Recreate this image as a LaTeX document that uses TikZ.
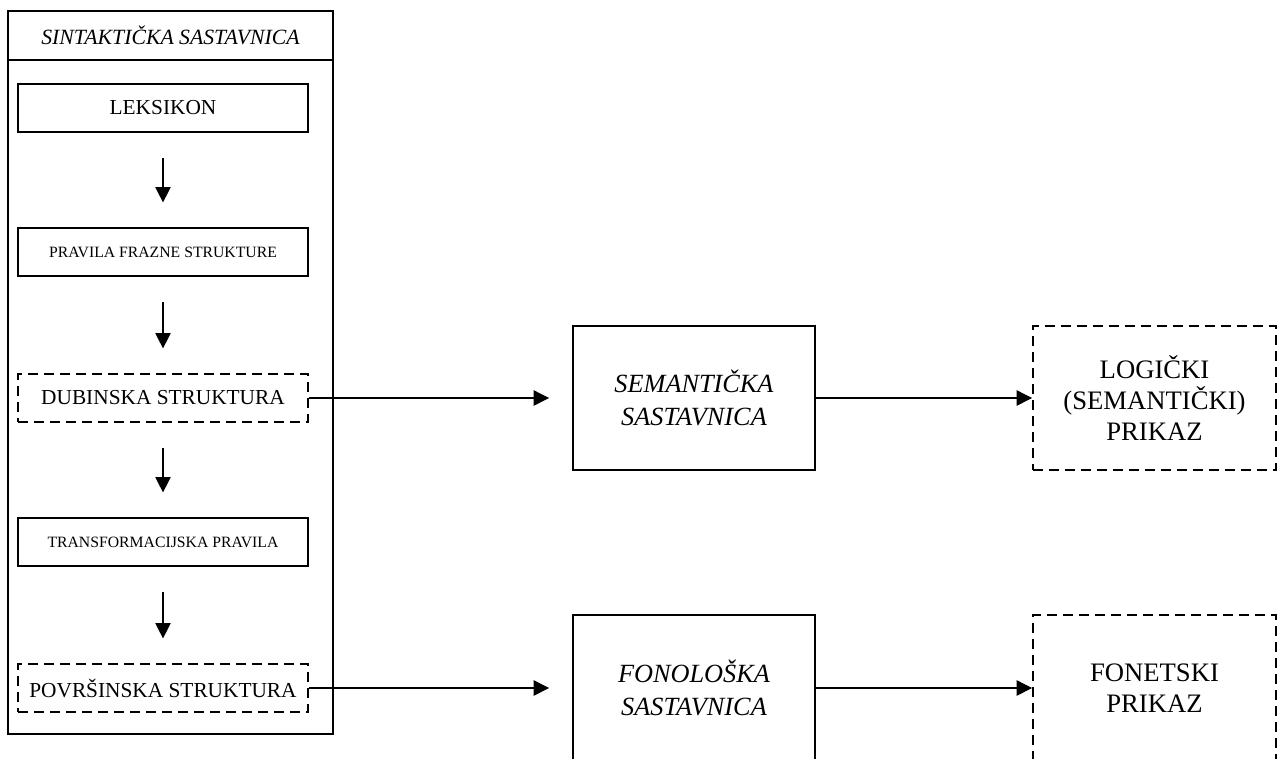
\documentclass[tikz,border=0pt]{standalone}
\usepackage{fontspec}
\setmainfont{Liberation Serif}
\usetikzlibrary{arrows.meta}
\begin{document}
\begin{tikzpicture}[x=0.75pt,y=-0.75pt,
  frame/.style={draw, line width=1.5pt, inner sep=0pt},
  smallbox/.style={draw, line width=1.4pt, inner sep=0pt, minimum width=217.5pt, minimum height=36pt, align=center},
  dashbox/.style={smallbox, dash pattern=on 7.5pt off 4.5pt},
  bigbox/.style={draw, line width=1.4pt, inner sep=0pt, minimum width=181.5pt, minimum height=108pt, align=center},
  bigdash/.style={bigbox, minimum width=182.25pt, dash pattern=on 7.5pt off 4.5pt},
  arr/.style={line width=0.8pt, -{Triangle[length=11.5pt,width=11.5pt]}},
  lab/.style={font=\fontsize{16}{19}\selectfont},
  smalllab/.style={font=\fontsize{11.8}{14}\selectfont},
  itlab/.style={font=\fontsize{19.7}{24.5}\selectfont\itshape},
  rlab/.style={font=\fontsize{20}{23.5}\selectfont}
]
\useasboundingbox (0,0) rectangle (1285,758);
\clip (0,0) rectangle (1285,758);
\fill[white] (0,0) rectangle (1285,758);

% outer component frame
\node[frame, minimum width=243.75pt, minimum height=542.25pt] (outer) at (170.5,372.5) {};
\node[frame, minimum width=243.75pt, minimum height=36.75pt,
      font=\fontsize{16.3}{19}\selectfont\itshape] (title) at (170.5,35.5) {SINTAKTIČKA SASTAVNICA};

% inner boxes
\node[smallbox, lab] (leks) at (163,108) {LEKSIKON};
\node[smallbox, smalllab] (prav) at (163,252) {PRAVILA FRAZNE STRUKTURE};
\node[dashbox, lab] (dub) at (163,398) {DUBINSKA STRUKTURA};
\node[smallbox, smalllab] (trans) at (163,542) {TRANSFORMACIJSKA PRAVILA};
\node[dashbox, lab] (pov) at (163,688) {POVRŠINSKA STRUKTURA};

% right side boxes
\node[bigbox, itlab] (sem) at (694,398) {SEMANTIČKA\\SASTAVNICA};
\node[bigdash, rlab] (log) at (1154.5,398) {LOGIČKI\\(SEMANTIČKI)\\PRIKAZ};
\node[bigbox, itlab, minimum height=109.5pt] (fon) at (694,688) {FONOLOŠKA\\SASTAVNICA};
\node[bigdash, rlab, minimum height=109.5pt] (fonet) at (1154.5,688) {FONETSKI\\PRIKAZ};

% vertical arrows
\draw[arr, shorten <=18.75pt, shorten >=18.5pt] (leks) -- (prav);
\draw[arr, shorten <=18.75pt, shorten >=18.5pt] (prav) -- (dub);
\draw[arr, shorten <=18.75pt, shorten >=18.5pt] (dub) -- (trans);
\draw[arr, shorten <=18.75pt, shorten >=18.5pt] (trans) -- (pov);

% horizontal arrows
\draw[arr] (dub.east) -- ([xshift=-17.25pt]sem.west);
\draw[arr] (sem.east) -- (log.west);
\draw[arr] (pov.east) -- ([xshift=-17.25pt]fon.west);
\draw[arr] (fon.east) -- (fonet.west);
\end{tikzpicture}
\end{document}
